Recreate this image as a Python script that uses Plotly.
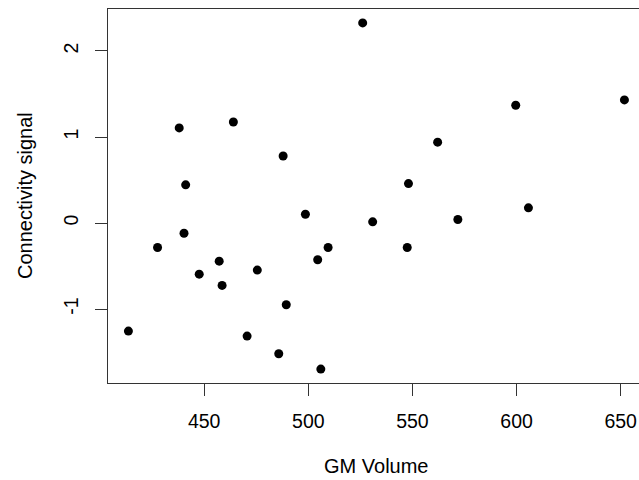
import plotly.graph_objects as go

gm_volume = [526.1, 438.0, 464.0, 487.9, 441.1, 548.1, 562.1, 599.6, 651.8,
             605.7, 498.6, 530.9, 571.8, 440.3, 427.6, 509.5, 547.5, 457.2,
             504.5, 447.6, 475.5, 458.6, 489.4, 413.6, 470.6, 485.8, 506.0]
connectivity = [2.326, 1.106, 1.175, 0.780, 0.444, 0.459, 0.940, 1.369, 1.431,
                0.177, 0.103, 0.014, 0.041, -0.118, -0.284, -0.284, -0.284, -0.443,
                -0.427, -0.594, -0.547, -0.725, -0.950, -1.256, -1.314, -1.519, -1.697]
x_ticks = [450, 500, 550, 600, 650]
y_ticks = [-1, 0, 1, 2]
x_title = "GM Volume"
y_title = "Connectivity signal"

FONT = "Liberation Sans, Arial, sans-serif"
L, R, T, B = 108, 0, 9, 97
W, H = 639, 480
plot_w = W - L - R
plot_h = H - T - B

fig = go.Figure(go.Scatter(
    x=gm_volume, y=connectivity, mode="markers",
    marker=dict(color="black", size=9, line=dict(width=0)),
    hoverinfo="skip",
))

fig.update_layout(
    width=W, height=H,
    margin=dict(l=L, r=R, t=T, b=B, pad=0),
    paper_bgcolor="white", plot_bgcolor="white",
    showlegend=False,
    font=dict(family=FONT, size=20, color="black"),
    xaxis=dict(
        range=[403.8, 658.8], tickvals=x_ticks, ticktext=[str(v) for v in x_ticks],
        showgrid=False, zeroline=False, showline=True, mirror=True,
        linecolor="#333333", linewidth=1, ticks="outside", ticklen=12,
        tickcolor="#333333", tickwidth=1, ticklabelstandoff=9,
        tickfont=dict(family=FONT, size=19.5, color="black"),
    ),
    yaxis=dict(
        range=[-1.859, 2.488], tickvals=y_ticks, ticktext=[str(v) for v in y_ticks],
        showgrid=False, zeroline=False, showline=True, mirror=False,
        linecolor="#333333", linewidth=1, ticks="outside", ticklen=12,
        tickcolor="#333333", tickwidth=1, tickangle=-90, ticklabelstandoff=9,
        tickfont=dict(family=FONT, size=19.5, color="black"),
    ),
)
fig.add_annotation(text=x_title, xref="paper", yref="paper",
                   x=(376 - L) / plot_w, y=(H - B - 466) / plot_h,
                   xanchor="center", yanchor="middle", showarrow=False,
                   font=dict(family=FONT, size=20, color="black"))
fig.add_annotation(text=y_title, xref="paper", yref="paper",
                   x=(25 - L) / plot_w, y=(H - B - 196) / plot_h,
                   xanchor="center", yanchor="middle", textangle=-90, showarrow=False,
                   font=dict(family=FONT, size=20, color="black"))

fig.write_html("out.html", config={"displayModeBar": False},
               post_script="document.body.style.margin='0';document.body.style.overflow='hidden';")
